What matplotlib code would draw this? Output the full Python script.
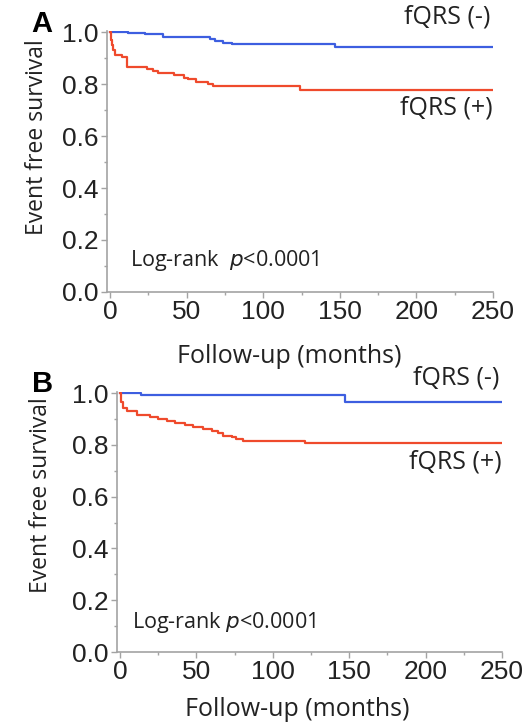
import matplotlib
matplotlib.use("Agg")
import matplotlib.pyplot as plt
from matplotlib.ticker import MultipleLocator

# Kaplan-Meier step points (months, survival) read for each group
a_neg_t = [0, 11.6, 23, 34.5, 65, 68.5, 74, 79.4, 147, 250]
a_neg_s = [1.0, 0.996, 0.991, 0.980, 0.973, 0.967, 0.959, 0.954, 0.941, 0.941]
a_pos_t = [0, 0.5, 1, 2, 3.5, 8, 11, 24, 28, 31, 42, 48, 51, 56, 64, 67, 124, 250]
a_pos_s = [1.0, 0.97, 0.95, 0.93, 0.912, 0.903, 0.867, 0.858, 0.85, 0.843,
           0.835, 0.824, 0.818, 0.809, 0.799, 0.792, 0.777, 0.777]

b_neg_t = [0, 14, 147, 250]
b_neg_s = [1.0, 0.994, 0.967, 0.967]
b_pos_t = [0, 0.8, 1.8, 4.4, 11, 19.6, 25, 30.5, 36, 42.5, 48, 54.5, 60,
           64.3, 67.6, 73, 76, 80.7, 121, 250]
b_pos_s = [1.0, 0.965, 0.941, 0.932, 0.915, 0.908, 0.902, 0.892, 0.885, 0.876,
           0.870, 0.861, 0.854, 0.847, 0.835, 0.829, 0.821, 0.816, 0.806, 0.806]

BLUE = "#3d5ee0"
RED = "#ef4a2c"
GREY = "#a3a3a3"
TXT = "Open Sans"
NUM = "Liberation Sans"

fig = plt.figure(figsize=(5.29, 7.24), dpi=100)


def km_panel(rect, neg_t, neg_s, pos_t, pos_s, letter, letter_xy,
             neg_y, pos_y, rank_xy, rank_text, ylab_xy, xlab_xy):
    ax = fig.add_axes(rect)
    ax.step(neg_t, neg_s, where="post", color=BLUE, lw=1.6)
    ax.step(pos_t, pos_s, where="post", color=RED, lw=1.6)
    ax.set_xlim(-2, 250)
    ax.set_ylim(0, 1.004)
    for s in ("top", "right"):
        ax.spines[s].set_visible(False)
    for s in ("left", "bottom"):
        ax.spines[s].set_color(GREY)
        ax.spines[s].set_linewidth(1.2)
    ax.xaxis.set_major_locator(MultipleLocator(50))
    ax.xaxis.set_minor_locator(MultipleLocator(25))
    ax.yaxis.set_minor_locator(MultipleLocator(0.1))
    ax.set_yticks([0, 0.2, 0.4, 0.6, 0.8, 1.0])
    ax.set_yticklabels(["0.0", "0.2", "0.4", "0.6", "0.8", "1.0"])
    ax.tick_params(which="major", length=4, width=1, color=GREY,
                   labelsize=19, pad=2)
    ax.tick_params(which="minor", length=2.5, width=1, color=GREY)
    for lab in ax.get_xticklabels() + ax.get_yticklabels():
        lab.set_fontfamily(NUM)
        lab.set_color("#222222")

    ax.text(248, neg_y, "fQRS (-)", ha="right", va="center",
            fontsize=18, family=TXT, color="#222222", clip_on=False)
    ax.text(250, pos_y, "fQRS (+)", ha="right", va="center",
            fontsize=18, family=TXT, color="#222222", clip_on=False)
    ax.text(rank_xy[0], rank_xy[1], rank_text, ha="left", va="center",
            fontsize=15.5, family=TXT, color="#222222")

    fig.text(letter_xy[0], letter_xy[1], letter, fontsize=21,
             fontweight="bold", family=NUM, ha="left", va="baseline")
    fig.text(ylab_xy[0], ylab_xy[1], "Event free survival", rotation=90,
             ha="center", va="center", fontsize=16.5, family=TXT,
             color="#222222")
    fig.text(xlab_xy[0], xlab_xy[1], "Follow-up (months)", ha="center",
             va="center", fontsize=18, family=TXT, color="#222222")
    return ax


km_panel([0.2023, 0.5967, 0.7297, 0.3605], a_neg_t, a_neg_s, a_pos_t, a_pos_s,
         "A", (0.060, 1 - 32 / 724), 1.058, 0.708, (13, 0.123),
         r"Log-rank  $\it{p}$<0.0001", (0.070, 0.811), (0.546, 0.507))

km_panel([0.2212, 0.0994, 0.7278, 0.359], b_neg_t, b_neg_s, b_pos_t, b_pos_s,
         "B", (0.060, 1 - 392 / 724), 1.058, 0.734, (8, 0.116),
         r"Log-rank $\it{p}$<0.0001", (0.0776, 0.316), (0.561, 0.02))

fig.savefig("out.png", dpi=100)
